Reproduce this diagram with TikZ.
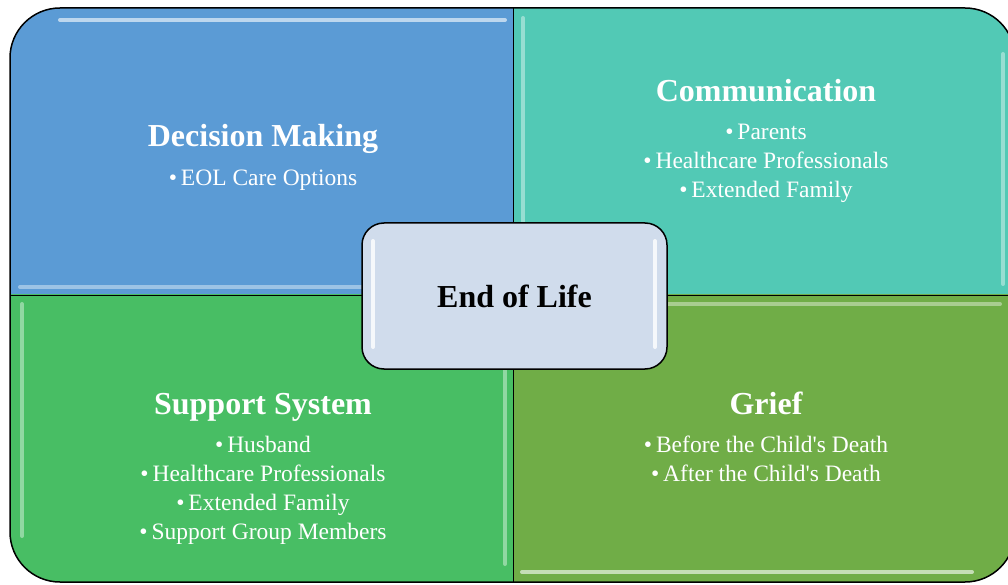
\documentclass[tikz,border=0pt]{standalone}
\usepackage{fontspec}
\setmainfont{Liberation Serif}[Ligatures=TeXOff]

\definecolor{dmblue}{HTML}{5B9BD5}
\definecolor{comteal}{HTML}{52C9B5}
\definecolor{supgreen}{HTML}{48BE64}
\definecolor{grfolive}{HTML}{70AD47}
\definecolor{eolfill}{HTML}{D0DCEC}

\newcommand{\itm}{•\,}

\tikzset{
    heading/.style={text=white, inner sep=0pt, anchor=base, font=\fontsize{32}{36}\selectfont\bfseries},
    items/.style={text=white, inner sep=0pt, anchor=north, align=center, font=\fontsize{23.5}{29}\selectfont},
    gloss/.style={white, opacity=0.4, line width=4pt, line cap=round},
    hub/.style={draw, line width=1.5pt, rounded corners=22pt, fill=eolfill, inner sep=0pt,
        minimum width=305pt, minimum height=146pt, font=\fontsize{32}{36}\selectfont\bfseries}
}

\begin{document}
\begin{tikzpicture}[x=1pt,y=1pt]
    \useasboundingbox (0,0) rectangle (1008,584);

    \coordinate (SW) at (10,2);
    \coordinate (NE) at (1015,576);
    \coordinate (M) at (513,289);

    % quadrants
    \foreach \xa/\ya/\xb/\yb/\col in {0/289/513/584/dmblue, 513/289/1020/584/comteal, 0/0/513/289/supgreen, 513/0/1020/289/grfolive}
    {
        \begin{scope}
            \clip (\xa,\ya) rectangle (\xb,\yb);
            \fill[\col, rounded corners=50pt] (SW) rectangle (NE);
        \end{scope}
    }

    % glossy strips
    \draw[gloss, opacity=0.6] (60,564) -- (505,564);
    \draw[gloss] (20,297) -- (505,297);
    \draw[gloss] (523,298) -- (523,566);
    \draw[gloss] (1003,300) -- (1003,530);
    \draw[gloss] (22,48) -- (22,280);
    \draw[gloss] (505,20) -- (505,280);
    \draw[gloss, opacity=0.6] (522,12) -- (972,12);
    \draw[gloss] (522,280) -- (1000,280);

    % outlines
    \draw[line width=1.5pt, rounded corners=50pt] (SW) rectangle (NE);
    \draw[line width=0.8pt] (M |- SW) -- (M |- NE);
    \draw[line width=0.8pt] (M -| SW) -- (M -| NE);

    % texts
    \node[heading] (dm) at (263,437) {Decision Making};
    \node[items] (dmlist) at (263,414) {\itm EOL Care Options};

    \node[heading] (com) at (766,482) {Communication};
    \node[items] (comlist) at (766,460) {\itm Parents\\ \itm Healthcare Professionals\\ \itm Extended Family};

    \node[heading] (sup) at (263,170) {Support System};
    \node[items] (suplist) at (263,148) {\itm Husband\\ \itm Healthcare Professionals\\ \itm Extended Family\\ \itm Support Group Members};

    \node[heading] (grf) at (766,170) {Grief};
    \node[items] (grflist) at (766,148) {\itm Before the Child's Death\\ \itm After the Child's Death};

    % centre
    \node[hub] (eol) at (514.5,288) {End of Life};
    \draw[gloss, opacity=0.8] (373,237) -- (373,343);
    \draw[gloss, opacity=0.8] (655,237) -- (655,343);
\end{tikzpicture}
\end{document}
